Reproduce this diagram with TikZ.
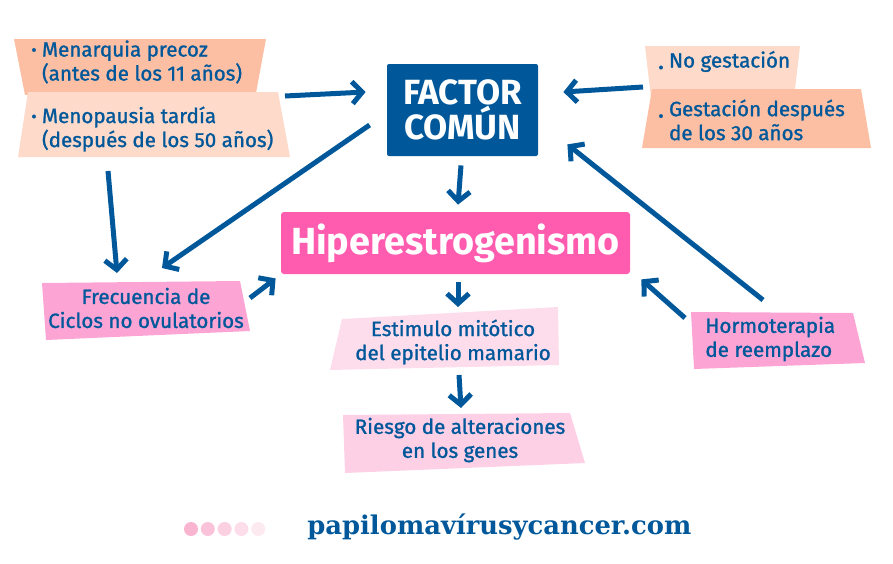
\documentclass[tikz,border=0pt]{standalone}
\usepackage{fontspec}
\setmainfont{Fira Sans}
\newfontfamily\medio[FakeBold=1.2]{Fira Sans}
\newfontfamily\urlfont{DejaVu Serif}
\usepackage{tikz}
\usetikzlibrary{arrows.meta, positioning, calc}

\definecolor{azul}{HTML}{00589A}
\definecolor{rosa}{HTML}{FF5BAF}
\definecolor{rosamed}{HTML}{FCA5D5}
\definecolor{rosaclaro}{HTML}{FDDDEC}
\definecolor{rosariesgo}{HTML}{FDD0E6}
\definecolor{salmon}{HTML}{FDBFA3}
\definecolor{salmonclaro}{HTML}{FDDACA}

\newcommand{\punto}[1][0pt]{\raisebox{#1}{\footnotesize\textbullet}\ }

\tikzset{
  flecha/.style={line width=2.5pt, azul, line join=miter,
    -{Straight Barb[length=5pt, width=11pt, line width=2.5pt]}},
  texto/.style={inner sep=0pt, text=azul, font=\medio\fontsize{10.3}{12}\selectfont},
}

\begin{document}
\begin{tikzpicture}[x=0.5pt, y=-0.5pt]
  \useasboundingbox (0,0) rectangle (893,563);
  % recuadros de la izquierda
  \fill[salmon] (14,39) -- (266,39) -- (256,93) -- (25,95) -- cycle;
  \fill[salmonclaro] (28,92) -- (278,92) -- (290,157) -- (18,157) -- cycle;
  % recuadros de la derecha
  \fill[salmonclaro] (645,46) -- (800,46) -- (794,98) -- (651,98) -- cycle;
  \fill[salmon] (652,89) -- (861,89) -- (871,148) -- (642,148) -- cycle;
  % recuadros inferiores
  \fill[rosamed] (42,283) -- (240,281) -- (250,331) -- (46,340) -- cycle;
  \fill[rosaclaro] (342,319) -- (558,307) -- (559,365) -- (330,370) -- cycle;
  \fill[rosariesgo] (343,415) -- (570,413) -- (585,463) -- (345,473) -- cycle;
  \fill[rosamed] (691,312) -- (853,313) -- (865,363) -- (694,369) -- cycle;

  % nodos centrales
  \node[fill=azul, text=white, rounded corners=1pt, minimum width=75.5pt,
    minimum height=46pt, inner sep=0pt, align=center,
    font=\fontsize{17.5}{17.5}\selectfont\bfseries] (factor) at (462.5,110) {FACTOR\\COMÚN};
  \node[fill=rosa, text=white, rounded corners=1.5pt, minimum width=174.5pt,
    minimum height=31pt, inner sep=0pt,
    font=\fontsize{18.9}{20}\selectfont\bfseries] (hiper) at (455.5,243) {Hiperestrogenismo};

  % textos
  \node[texto, anchor=west, align=left] (menar) at (31,62)
    {\punto[0.1ex]Menarquia precoz\\\phantom{\punto}(antes de los 11 años)};
  \node[texto, anchor=west, align=left] (menop) at (31,129)
    {\punto[0.1ex]Menopausia tardía\\\phantom{\punto}(después de los 50 años)};
  \node[texto, anchor=west, align=left] (nogest) at (658,62)
    {\punto[-0.5ex]No gestación};
  \node[texto, anchor=west, align=left] (gest) at (658,120)
    {\punto[-0.5ex]Gestación después\\\phantom{\punto}de los 30 años};
  \node[texto, align=center] (freq) at (146,308) {Frecuencia de\\Ciclos no ovulatorios};
  \node[texto, align=center] (estim) at (453,342) {Estimulo mitótico\\del epitelio mamario};
  \node[texto, align=center] (riesgo) at (460,440) {Riesgo de alteraciones\\en los genes};
  \node[texto, anchor=west, align=left] (hormo) at (705,339) {Hormoterapia\\de reemplazo};

  % flechas
  \draw[flecha] ([shift={(254,-33)}]menop.west) -- ([shift={(-21,-18)}]factor.west);
  \draw[flecha] ([shift={(-15,25)}]nogest.west) -- ([shift={(25,-18)}]factor.east);
  \draw[flecha] ([shift={(-1.5,9)}]factor.south) -- ([shift={(2.5,-7)}]hiper.north);
  \draw[flecha] ([shift={(-17,15)}]factor.west) -- ([shift={(16,-40)}]freq.center);
  \draw[flecha] ([shift={(77,42)}]menop.west) -- ([shift={(-29,-35)}]freq.center);
  \draw[flecha] ([shift={(104,-10)}]freq.center) -- ([shift={(-5,4)}]hiper.south west);
  \draw[flecha] ([shift={(2.5,8)}]hiper.south) -- ([shift={(5,-35)}]estim.center);
  \draw[flecha] ([shift={(6,33)}]estim.center) -- ([shift={(1,-32)}]riesgo.center);
  \draw[flecha] ([shift={(-20,-21)}]hormo.west) -- ([shift={(11,5)}]hiper.south east);
  \draw[flecha] ([shift={(58,-39)}]hormo.west) -- ([shift={(29,-12)}]factor.south east);

  % pie
  \foreach \i/\c in {0/F9B4CF, 1/FAC3D9, 2/FBD0E1, 3/FCDDE9, 4/FDEAF1}{
    \definecolor{puntocolor}{HTML}{\c}
    \fill[puntocolor] (191+\i*16.8,529) circle (3.5pt);
  }
  \node[text=azul, anchor=west, inner sep=0pt,
    font=\urlfont\bfseries\fontsize{12.9}{14}\selectfont] (web) at (307,527) {papilomavírusycancer.com};
\end{tikzpicture}
\end{document}
